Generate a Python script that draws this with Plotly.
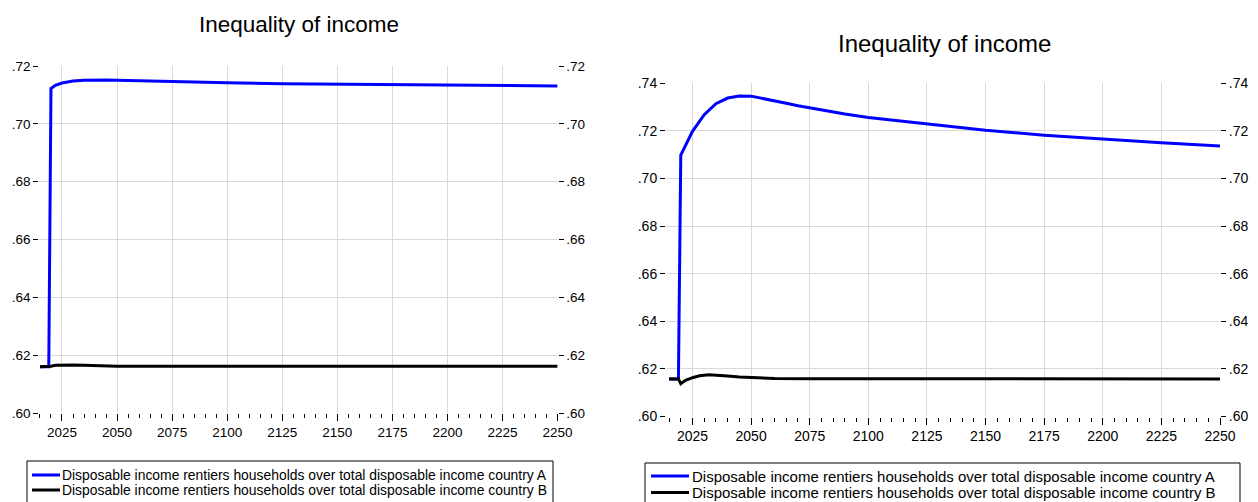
import plotly.graph_objects as go

W, H = 1258, 502
FONT = "Liberation Sans, Arial, sans-serif"

# ---- data -------------------------------------------------------------
# Left chart
left_years_a = [2015, 2016, 2017, 2018, 2019, 2020, 2022, 2025, 2030, 2035, 2040,
                2045, 2050, 2060, 2075, 2100, 2125, 2150, 2175, 2200, 2225, 2250]
left_a = [0.6160, 0.6160, 0.6160, 0.6160, 0.6160, 0.7122, 0.7133, 0.7141, 0.7148,
          0.7151, 0.7152, 0.7152, 0.7151, 0.7149, 0.7146, 0.7142, 0.7139, 0.7137,
          0.7135, 0.7134, 0.7133, 0.7131]
left_years_b = [2015, 2016, 2017, 2018, 2019, 2020, 2022, 2025, 2030, 2035, 2040,
                2045, 2050, 2075, 2100, 2150, 2200, 2250]
left_b = [0.6160, 0.6160, 0.6160, 0.6160, 0.6160, 0.6162, 0.6165, 0.6166, 0.6166,
          0.6165, 0.6164, 0.6163, 0.6162, 0.6162, 0.6162, 0.6162, 0.6162, 0.6162]

# Right chart
right_years_a = [2015, 2016, 2017, 2018, 2019, 2020, 2025, 2030, 2035, 2040, 2045,
                 2050, 2055, 2060, 2065, 2070, 2080, 2090, 2100, 2125, 2150, 2175,
                 2200, 2225, 2250]
right_a = [0.6158, 0.6158, 0.6158, 0.6158, 0.6158, 0.7098, 0.7198, 0.7268, 0.7314,
           0.7338, 0.7347, 0.7346, 0.7337, 0.7327, 0.7316, 0.7306, 0.7288, 0.7271,
           0.7256, 0.7228, 0.7203, 0.7182, 0.7165, 0.7150, 0.7137]
right_years_b = [2015, 2016, 2017, 2018, 2019, 2020, 2022, 2025, 2028, 2032, 2036,
                 2040, 2045, 2050, 2060, 2075, 2100, 2150, 2200, 2250]
right_b = [0.6158, 0.6158, 0.6158, 0.6158, 0.6158, 0.6138, 0.6152, 0.6163, 0.6171,
           0.6175, 0.6174, 0.6170, 0.6166, 0.6163, 0.6160, 0.6159, 0.6159, 0.6158,
           0.6158, 0.6158]

name_a = "Disposable income rentiers households over total disposable income country A"
name_b = "Disposable income rentiers households over total disposable income country B"
title_text = "Inequality of income"

year_ticks = [2025, 2050, 2075, 2100, 2125, 2150, 2175, 2200, 2225, 2250]
year_grid = [2025, 2050, 2075, 2100, 2125, 2150, 2175, 2200, 2225]

left_yticks = [0.60, 0.62, 0.64, 0.66, 0.68, 0.70, 0.72]
left_ylabels = [".60", ".62", ".64", ".66", ".68", ".70", ".72"]
left_ygrid = [0.62, 0.64, 0.66, 0.68, 0.70]

right_yticks = [0.60, 0.62, 0.64, 0.66, 0.68, 0.70, 0.72, 0.74]
right_ylabels = [".60", ".62", ".64", ".66", ".68", ".70", ".72", ".74"]
right_ygrid = [0.62, 0.64, 0.66, 0.68, 0.70, 0.72]

BLUE = "#0000ff"
BLACK = "#000000"
GRID = "#d9d9d9"

# ---- geometry (pixels) -------------------------------------------------
L_X = (39.3 / W, 557.6 / W)
L_Y = ((H - 413) / H, (H - 66) / H)
L_RANGE = [2014.7, 2250]
R_X = (666 / W, 1220 / W)
R_Y = ((H - 416.5) / H, (H - 83.3) / H)
R_RANGE = [2013.7, 2250]

fig = go.Figure()

# data series
fig.add_trace(go.Scatter(x=left_years_a, y=left_a, name=name_a, mode="lines",
                         line=dict(color=BLUE, width=3), xaxis="x", yaxis="y"))
fig.add_trace(go.Scatter(x=left_years_b, y=left_b, name=name_b, mode="lines",
                         line=dict(color=BLACK, width=3), xaxis="x", yaxis="y"))
fig.add_trace(go.Scatter(x=right_years_a, y=right_a, name=name_a, mode="lines",
                         line=dict(color=BLUE, width=3), xaxis="x3", yaxis="y4"))
fig.add_trace(go.Scatter(x=right_years_b, y=right_b, name=name_b, mode="lines",
                         line=dict(color=BLACK, width=3), xaxis="x3", yaxis="y4"))

# empty traces so the overlay axes (right-hand labels, grid) get a subplot
for xa, ya in [("x2", "y"), ("x", "y2"), ("x", "y3"),
               ("x4", "y4"), ("x3", "y5"), ("x3", "y6")]:
    fig.add_trace(go.Scatter(x=[], y=[], xaxis=xa, yaxis=ya, mode="lines",
                             showlegend=False, hoverinfo="skip"))


def tick_axis(domain, rng, font_size, **kw):
    return dict(domain=domain, range=rng, showgrid=False, zeroline=False,
                showline=False, ticks="outside", tickcolor=BLACK, tickwidth=1,
                tickfont=dict(family=FONT, size=font_size, color=BLACK),
                fixedrange=True, automargin=False, **kw)


def grid_axis(rng, vals, **kw):
    return dict(range=rng, tickmode="array", tickvals=vals, showgrid=True,
                gridcolor=GRID, gridwidth=1, showticklabels=False, ticks="",
                zeroline=False, showline=False, fixedrange=True,
                automargin=False, **kw)


minor_x = dict(dtick=5, tick0=2025, ticks="outside", ticklen=4, tickcolor=BLACK,
               showgrid=False)

# ---- legend boxes drawn in paper space ---------------------------------
def legend_parts(x0, x1, top, row_a, row_b, line_x0, line_x1, text_x, size):
    shapes = [
        dict(type="rect", xref="paper", yref="paper", x0=x0 / W, x1=x1 / W,
             y0=-0.05, y1=1 - top / H, line=dict(color=BLACK, width=1),
             fillcolor="white", layer="above"),
    ]
    annots = []
    for row, color, label in [(row_a, BLUE, name_a), (row_b, BLACK, name_b)]:
        shapes.append(dict(type="line", xref="paper", yref="paper",
                           x0=line_x0 / W, x1=line_x1 / W,
                           y0=1 - row / H, y1=1 - row / H,
                           line=dict(color=color, width=3), layer="above"))
        annots.append(dict(text=label, x=text_x / W, y=1 - row / H,
                           xref="paper", yref="paper", xanchor="left",
                           yanchor="middle", showarrow=False, borderpad=0,
                           font=dict(family=FONT, size=size, color=BLACK)))
    return shapes, annots


ls, la = legend_parts(27, 553, 461, 475, 490, 32, 60, 61, 13.9)
rs, ra = legend_parts(645, 1240, 463, 476, 492.5, 651, 689, 691, 15)

titles = [
    dict(text=title_text, x=299 / W, y=1 - 25 / H, xref="paper", yref="paper",
         xanchor="center", yanchor="middle", showarrow=False,
         font=dict(family=FONT, size=22.5, color=BLACK)),
    dict(text=title_text, x=944 / W, y=1 - 43 / H, xref="paper", yref="paper",
         xanchor="center", yanchor="middle", showarrow=False,
         font=dict(family=FONT, size=24, color=BLACK)),
]

fig.update_layout(
    width=W, height=H,
    margin=dict(l=0, r=0, t=0, b=0, pad=0, autoexpand=False),
    paper_bgcolor="white", plot_bgcolor="white",
    font=dict(family=FONT, color=BLACK),
    showlegend=False,
    # left chart axes
    xaxis=tick_axis(L_X, L_RANGE, 13.5, anchor="y", tickmode="array",
                    tickvals=year_ticks, ticklen=7, minor=minor_x),
    xaxis2=grid_axis(L_RANGE, year_grid, overlaying="x", anchor="y"),
    yaxis=tick_axis(L_Y, [0.60, 0.72], 13.5, anchor="x", tickmode="array",
                    tickvals=left_yticks, ticktext=left_ylabels, ticklen=5),
    yaxis2=tick_axis(L_Y, [0.60, 0.72], 13.5, anchor="x", overlaying="y",
                     side="right", tickmode="array", tickvals=left_yticks,
                     ticktext=left_ylabels, ticklen=5),
    yaxis3=grid_axis([0.60, 0.72], left_ygrid, overlaying="y", anchor="x"),
    # right chart axes
    xaxis3=tick_axis(R_X, R_RANGE, 14, anchor="y4", tickmode="array",
                     tickvals=year_ticks, ticklen=7, minor=minor_x),
    xaxis4=grid_axis(R_RANGE, year_grid, overlaying="x3", anchor="y4"),
    yaxis4=tick_axis(R_Y, [0.60, 0.74], 14, anchor="x3", tickmode="array",
                     tickvals=right_yticks, ticktext=right_ylabels, ticklen=5),
    yaxis5=tick_axis(R_Y, [0.60, 0.74], 14, anchor="x3", overlaying="y4",
                     side="right", tickmode="array", tickvals=right_yticks,
                     ticktext=right_ylabels, ticklen=5),
    yaxis6=grid_axis([0.60, 0.74], right_ygrid, overlaying="y4", anchor="x3"),
    shapes=ls + rs,
    annotations=titles + la + ra,
)

fig.write_html("out.html")
